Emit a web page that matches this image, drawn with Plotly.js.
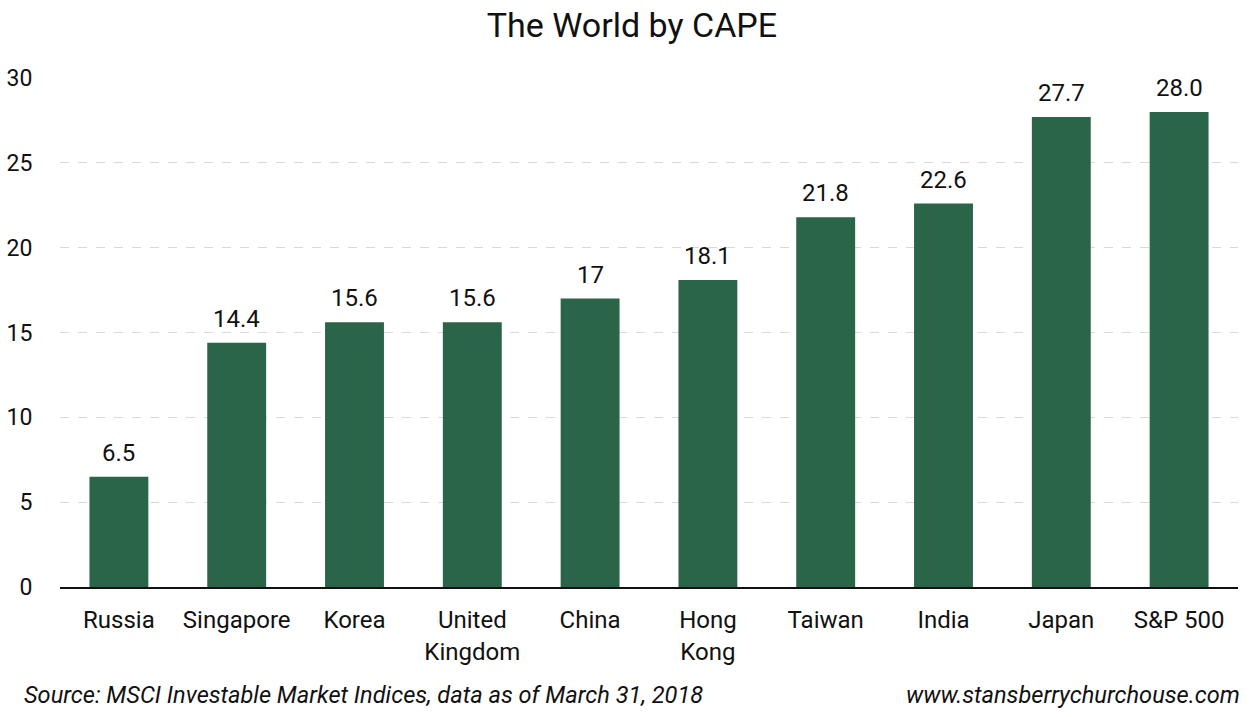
<!DOCTYPE html>
<html>
<head>
<meta charset="utf-8">
<script src="https://cdn.plot.ly/plotly-3.0.1.min.js"></script>
<style>html,body{margin:0;padding:0;background:#fff;}#chart{width:1250px;height:717px;}</style>
</head>
<body>
<div id="chart"></div>
<script>
const categories = ["Russia", "Singapore", "Korea", "United<br>Kingdom", "China", "Hong<br>Kong", "Taiwan", "India", "Japan", "S&P 500"];
const values = [6.5, 14.4, 15.6, 15.6, 17, 18.1, 21.8, 22.6, 27.7, 28.0];
const valueLabels = ["6.5", "14.4", "15.6", "15.6", "17", "18.1", "21.8", "22.6", "27.7", "28.0"];
const yTicks = [0, 5, 10, 15, 20, 25, 30];

const font = "Roboto, 'Open Sans', sans-serif";

const trace = {
  type: "bar",
  x: categories,
  y: values,
  marker: {color: "#2a6449"},
  hoverinfo: "none"
};

const annotations = categories.map((c, i) => ({
  x: c, y: values[i], text: valueLabels[i], xref: "x", yref: "y",
  showarrow: false, yanchor: "bottom", yshift: 8,
  font: {family: font, size: 24, color: "#111"}
}));
annotations.push({
  xref: "paper", yref: "paper", x: -0.032, y: -0.212, xanchor: "left", yanchor: "middle",
  text: "<i>Source: MSCI Investable Market Indices, data as of March 31, 2018</i>",
  showarrow: false, font: {family: font, size: 23.6, color: "#111"}
});
annotations.push({
  xref: "paper", yref: "paper", x: 1.003, y: -0.212, xanchor: "right", yanchor: "middle",
  text: "<i>www.stansberrychurchouse.com</i>",
  showarrow: false, font: {family: font, size: 23.6, color: "#111"}
});

const layout = {
  width: 1250, height: 717,
  margin: {l: 60, r: 12, t: 78, b: 130},
  paper_bgcolor: "#fff", plot_bgcolor: "#fff",
  title: {text: "The World by CAPE", font: {family: font, size: 34, color: "#111"}, x: 0.5055, xanchor: "center", y: 0.965, yanchor: "middle"},
  bargap: 0.5,
  showlegend: false,
  xaxis: {
    type: "category", tickfont: {family: font, size: 24, color: "#111"},
    showline: true, linecolor: "#111", linewidth: 1.5,
    ticks: "outside", ticklen: 11, tickcolor: "rgba(0,0,0,0)",
    showgrid: false, zeroline: false
  },
  yaxis: {
    range: [0, 30], tickvals: yTicks, ticktext: yTicks.map(String),
    tickfont: {family: font, size: 23, color: "#111"},
    showgrid: true, gridcolor: "#d9d9d9", griddash: "dash", gridwidth: 1,
    zeroline: false, showline: false,
    ticks: "outside", ticklen: 22, tickcolor: "rgba(0,0,0,0)"
  },
  annotations: annotations
};

Plotly.newPlot("chart", [trace], layout, {displayModeBar: false, staticPlot: true});
</script>
</body>
</html>
